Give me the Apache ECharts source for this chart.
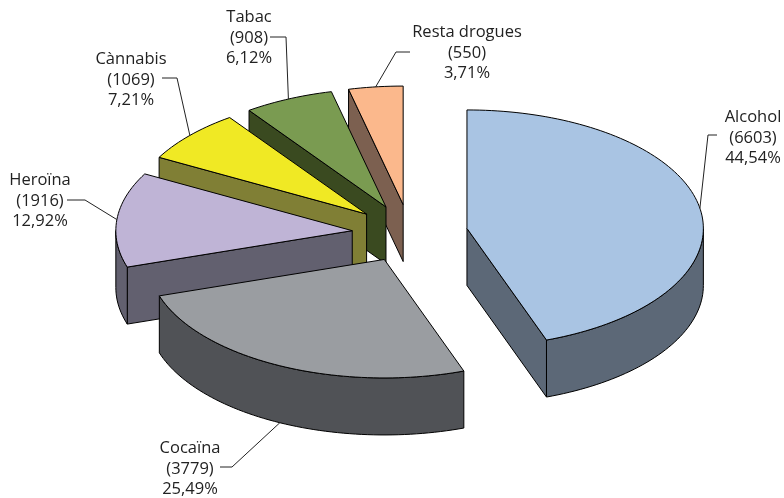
<!DOCTYPE html>
<html>
<head>
<meta charset="utf-8">
<style>html,body{margin:0;padding:0;background:#fff}#c{width:784px;height:498px}</style>
<script src="https://cdn.jsdelivr.net/npm/echarts@6/dist/echarts.min.js"></script>
</head>
<body>
<div id="c"></div>
<script>
// Data
var categories = ['Alcohol', 'Cocaïna', 'Heroïna', 'Cànnabis', 'Tabac', 'Resta drogues'];
var values = [6603, 3779, 1916, 1069, 908, 550];
var percentLabels = ['44,54%', '25,49%', '12,92%', '7,21%', '6,12%', '3,71%'];

// Styles
var topColors  = ['#A9C4E3', '#9A9DA1', '#BFB4D6', '#F0E924', '#7A9B51', '#FBB88C'];
var sideColors = ['#5C6877', '#505256', '#62606F', '#807F35', '#3A4A20', '#7C6050'];

// Layout of the projected pie and of its labels
var CX = 409.9, CY = 233.4, RX = 236.4, RY = 118.5, DEPTH = 57, EXPLODE = 0.245;
var labelCentres = [[753, 138], [190, 469], [40, 201], [131, 80], [249, 38], [467, 53]];
var leaderElbows = [
  [[708, 135], [717, 135]],
  [[232, 467], [220, 467]],
  [[85, 200], [67, 200]],
  [[177, 78], [162, 78]],
  [[286, 37], [270, 37]],
  [[396, 52], [410, 52]]
];

var total = values.reduce(function (a, b) { return a + b; }, 0);

function startAngle(index) {
  var s = 0;
  for (var i = 0; i < index; i++) s += values[i];
  return s / total * 360;
}
function unit(deg) {
  var r = deg * Math.PI / 180;
  return [Math.sin(r), -Math.cos(r)];
}
function rim(apex, deg) {
  var u = unit(deg);
  return [apex[0] + RX * u[0], apex[1] + RY * u[1]];
}
function arc(apex, from, to) {
  var pts = [], n = Math.max(2, Math.ceil((to - from) / 1.5));
  for (var i = 0; i <= n; i++) pts.push(rim(apex, from + (to - from) * i / n));
  return pts;
}
function down(p) { return [p[0], p[1] + DEPTH]; }

function renderSlice(params, api) {
  var i = params.dataIndex;
  var value = api.value(0);
  var a0 = startAngle(i), a1 = a0 + value / total * 360, mid = (a0 + a1) / 2;
  var u = unit(mid);
  var apex = [CX + EXPLODE * RX * u[0], CY + EXPLODE * RY * u[1]];
  var z = 10 * (values.length - i);
  var children = [];

  function poly(points, fill, dz) {
    children.push({
      type: 'polygon', z2: z + dz, shape: { points: points },
      style: { fill: fill, stroke: '#000', lineWidth: 1, lineJoin: 'round' }
    });
  }

  // cut faces, drawn only when the top of the slice lies above the edge
  var centroid = rim(apex, mid);
  [a0, a1].forEach(function (deg) {
    var p = rim(apex, deg);
    var ex = p[0] - apex[0], ey = p[1] - apex[1];
    var side = ex * (centroid[1] - apex[1]) - ey * (centroid[0] - apex[0]);
    var ny = side > 0 ? ex : -ex;
    if (ny < -1e-6) poly([apex, p, down(p), down(apex)], sideColors[i], 0);
  });

  // outer wall: the part of the rim on the near half of the ellipse
  var w0 = Math.max(a0, 90), w1 = Math.min(a1, 270);
  if (w1 > w0) {
    var upper = arc(apex, w0, w1);
    poly(upper.concat(upper.map(down).reverse()), sideColors[i], 1);
  }

  // top face
  poly([apex].concat(arc(apex, a0, a1)), topColors[i], 2);

  // leader line from the rim to the label
  var anchor = rim(apex, mid);
  if (mid > 90 && mid < 270) anchor = down(anchor);
  children.push({
    type: 'polyline', z2: 100, shape: { points: [anchor].concat(leaderElbows[i]) },
    style: { fill: null, stroke: '#222', lineWidth: 1 }
  });

  // label
  children.push({
    type: 'text', z2: 101,
    style: {
      text: categories[i] + '\n(' + value + ')\n' + percentLabels[i],
      x: labelCentres[i][0], y: labelCentres[i][1],
      align: 'center', verticalAlign: 'middle',
      font: '16.5px "Open Sans"', lineHeight: 20.5, fill: '#222'
    }
  });

  return { type: 'group', children: children };
}

var chart = echarts.init(document.getElementById('c'), null, { renderer: 'canvas' });
chart.setOption({
  backgroundColor: '#fff',
  animation: false,
  series: [{
    type: 'custom',
    coordinateSystem: 'none',
    silent: true,
    data: values.map(function (v) { return [v]; }),
    renderItem: renderSlice
  }]
});
</script>
</body>
</html>
